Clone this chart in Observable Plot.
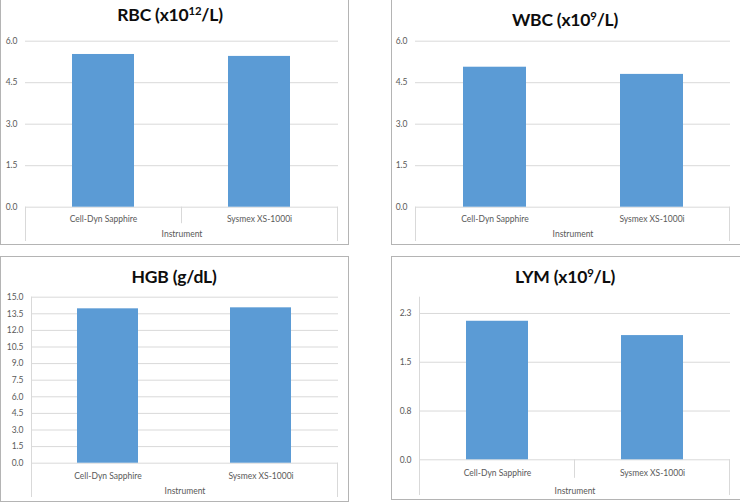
<!DOCTYPE html>
<html>
<head>
<meta charset="utf-8">
<script src="https://cdn.jsdelivr.net/npm/d3@7"></script>
<script src="https://cdn.jsdelivr.net/npm/@observablehq/plot@0.6"></script>
<style>
  body { margin: 0; background: #fff; }
  #root { position: relative; width: 740px; height: 502px; overflow: hidden; font-family: Lato, "Open Sans", sans-serif; }
  .box { position: absolute; box-sizing: border-box; border: 1px solid #b4b4b4; background: #fff; }
  .title { position: absolute; font-weight: bold; font-size: 17.5px; color: #0d0d0d; white-space: nowrap; transform: translateX(-50%); line-height: 1; letter-spacing: -0.2px; }
  .title .sup { font-size: 0.65em; position: relative; top: -0.5em; }
  .chart { position: absolute; }
</style>
</head>
<body>
<div id="root"></div>
<script>
// ---- data ----
const instruments = ["Cell-Dyn Sapphire", "Sysmex XS-1000i"];
const axisLabel = "Instrument";

const rbcValues = [5.52, 5.45];
const wbcValues = [5.06, 4.80];
const hgbValues = [13.95, 14.04];
const lymValues = [2.13, 1.91];

const rbcTicks = [0, 1.5, 3, 4.5, 6];
const rbcTickLabels = ["0.0", "1.5", "3.0", "4.5", "6.0"];
const wbcTicks = [0, 1.5, 3, 4.5, 6];
const wbcTickLabels = ["0.0", "1.5", "3.0", "4.5", "6.0"];
const hgbTicks = [0, 1.5, 3, 4.5, 6, 7.5, 9, 10.5, 12, 13.5, 15];
const hgbTickLabels = ["0.0", "1.5", "3.0", "4.5", "6.0", "7.5", "9.0", "10.5", "12.0", "13.5", "15.0"];
const lymTicks = [0, 0.75, 1.5, 2.25];
const lymTickLabels = ["0.0", "0.8", "1.5", "2.3"];

const rbcTitle = ["RBC (x10", "12", "/L)"];
const wbcTitle = ["WBC (x10", "9", "/L)"];
const hgbTitle = ["HGB (g/dL)", "", ""];
const lymTitle = ["LYM (x10", "9", "/L)"];

// ---- layout ----
const panels = [
  { title: rbcTitle, values: rbcValues, ticks: rbcTicks, labels: rbcTickLabels, domain: [0, 6],
    box: [0, -1, 349, 246], titleX: 170, titleY: 6,
    svg: [0, 30, 349, 215], m: [10.7, 11, 38.3, 25], catDy: 11.5, labDy: 27.5, fullY: false, mid: true },
  { title: wbcTitle, values: wbcValues, ticks: wbcTicks, labels: wbcTickLabels, domain: [0, 6],
    box: [391, -1, 350, 246], titleX: 565, titleY: 11,
    svg: [391, 30, 349, 215], m: [10.7, 10, 38.3, 24], catDy: 11.5, labDy: 27.5, fullY: false, mid: false },
  { title: hgbTitle, values: hgbValues, ticks: hgbTicks, labels: hgbTickLabels, domain: [0, 15],
    box: [0, 256, 349, 246], titleX: 174, titleY: 267.5,
    svg: [0, 290, 349, 211], m: [6.7, 11, 38.3, 31], catDy: 12.5, labDy: 28.5, fullY: true, mid: false },
  { title: lymTitle, values: lymValues, ticks: lymTicks, labels: lymTickLabels, domain: [0, 2.5],
    box: [391, 256, 350, 244], titleX: 565, titleY: 267.5,
    svg: [391, 290, 349, 209], m: [6.7, 10, 39.7, 28], catDy: 13.5, labDy: 31, fullY: true, mid: true }
];

const root = document.getElementById("root");

for (const p of panels) {
  const box = document.createElement("div");
  box.className = "box";
  Object.assign(box.style, { left: p.box[0] + "px", top: p.box[1] + "px", width: p.box[2] + "px", height: p.box[3] + "px" });
  root.appendChild(box);

  const t = document.createElement("div");
  t.className = "title";
  t.style.left = p.titleX + "px";
  t.style.top = p.titleY + "px";
  t.appendChild(document.createTextNode(p.title[0]));
  if (p.title[1]) {
    const s = document.createElement("span");
    s.className = "sup";
    s.textContent = p.title[1];
    t.appendChild(s);
  }
  if (p.title[2]) t.appendChild(document.createTextNode(p.title[2]));
  root.appendChild(t);

  const data = instruments.map((name, i) => ({ name, value: p.values[i] }));
  const plot = Plot.plot({
    width: p.svg[2],
    height: p.svg[3],
    marginTop: p.m[0], marginRight: p.m[1], marginBottom: p.m[2], marginLeft: p.m[3],
    style: { fontFamily: "Lato, 'Open Sans', sans-serif", fontSize: "8.5px", color: "#595959", background: "transparent", overflow: "visible" },
    x: { type: "band", domain: instruments, paddingInner: 0.6, paddingOuter: 0.3, label: null },
    y: { domain: p.domain, label: null },
    marks: [
      Plot.ruleY(p.ticks, { stroke: "#d9d9d9", strokeWidth: 1 }),
      Plot.barY(data, { x: "name", y: "value", fill: "#5B9BD5" }),
      Plot.axisY({ ticks: p.ticks, tickSize: 0, tickPadding: 8, tickFormat: d => p.labels[p.ticks.indexOf(d)], fill: "#595959" }),
      Plot.axisX({ tickSize: 0, tickPadding: p.catDy - 3, label: null, fill: "#595959" }),
      Plot.text([axisLabel], { frameAnchor: "bottom", dy: p.labDy, text: d => d, fill: "#595959", fontSize: 8.5, lineAnchor: "middle" })
    ]
  });

  // category-axis separators drawn from the library's scales
  const sx = plot.scale("x");
  const sy = plot.scale("y");
  const [r0, r1] = sx.range;
  const y0 = sy.apply(0);
  const yTop = sy.apply(p.domain[1]);
  const svg = d3.select(plot);
  const g = svg.append("g").attr("stroke", "#d9d9d9").attr("stroke-width", 1);
  const bottom = p.svg[3] - 4;
  g.append("line").attr("x1", r0 + 0.5).attr("x2", r0 + 0.5).attr("y1", p.fullY ? yTop : y0).attr("y2", bottom);
  g.append("line").attr("x1", r1 - 0.5).attr("x2", r1 - 0.5).attr("y1", y0).attr("y2", bottom);
  if (p.mid) {
    const xm = (r0 + r1) / 2;
    g.append("line").attr("x1", xm).attr("x2", xm).attr("y1", y0).attr("y2", y0 + (p.catDy + 5));
  }

  const wrap = document.createElement("div");
  wrap.className = "chart";
  wrap.style.left = p.svg[0] + "px";
  wrap.style.top = p.svg[1] + "px";
  wrap.appendChild(plot);
  root.appendChild(wrap);
}
</script>
</body>
</html>
